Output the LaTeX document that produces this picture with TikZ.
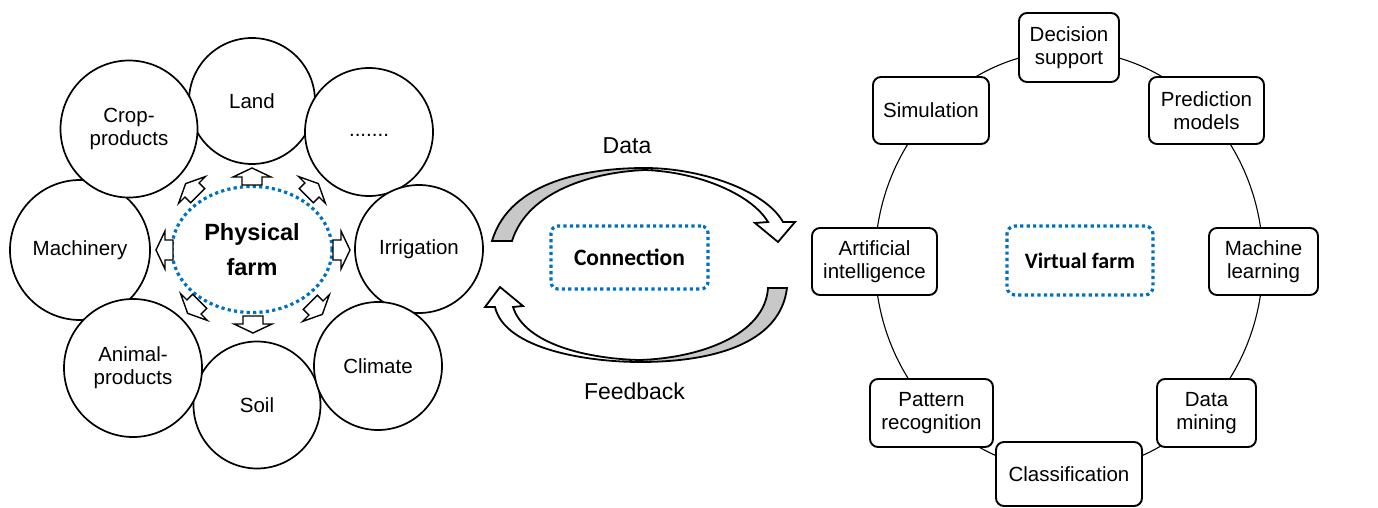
\documentclass[tikz,border=0pt]{standalone}
\usepackage{fontspec}
\setmainfont{Liberation Sans}
\newfontfamily\calib{Carlito}
\usetikzlibrary{shapes.geometric}
\definecolor{dotblue}{RGB}{0,112,192}
\definecolor{bandgray}{RGB}{200,200,200}
\begin{document}
\begin{tikzpicture}[x=1pt,y=-1pt,
  lbl/.style={font=\fontsize{20.5}{23}\selectfont, align=center},
  farmcircle/.style={lbl, circle, draw, line width=1.7, fill=white, inner sep=0, minimum size=#1},
  toolbox/.style={lbl, draw, line width=1.9, rounded corners=8, fill=white, inner sep=0, minimum width=#1, minimum height=67},
  bluedot/.style={draw=dotblue, line width=3.2, dash pattern=on 3.2 off 3.2},
  outarrow/.pic={\draw[line width=1.4, fill=white, line join=miter] (-8,-10) -- (0,-10) -- (0,-19) -- (9,0) -- (0,19) -- (0,10) -- (-8,10) -- cycle;},
  band/.style={line width=1.8, line join=miter},
  flowlbl/.style={font=\fontsize{23}{25}\selectfont}]
\useasboundingbox (0,0) rectangle (1378,508);

% ---------- physical farm ----------
\node[farmcircle=126] (land) at (252,101) {Land};
\node[farmcircle=127] (soil) at (257,405) {Soil};
\node[farmcircle=140] (machinery) at (80,250) {Machinery};
\node[farmcircle=137] (crop) at (129,129) {Crop-\\products};
\node[farmcircle=128] (more) at (369,132) {\vphantom{Ag}.......};
\node[farmcircle=128] (irrigation) at (419,249) {Irrigation};
\node[farmcircle=128] (climate) at (378,366) {Climate};
\node[farmcircle=138] (animal) at (133,368) {Animal-\\products};

\node[ellipse, bluedot, minimum width=160, minimum height=126, inner sep=0,
      font=\bfseries\fontsize{23.5}{35}\selectfont, align=center] (physical) at (252,249.5) {Physical\\farm};

\pic[rotate=90] at (252,177) {outarrow};
\pic[rotate=0] at (341,250) {outarrow};
\pic[rotate=180] at (165,250) {outarrow};
\pic[rotate=-90] at (253,324) {outarrow};
\pic[rotate=135] at (192,190) {outarrow};
\pic[rotate=45] at (312,190) {outarrow};
\pic[rotate=-135] at (194,307) {outarrow};
\pic[rotate=-45] at (316,308) {outarrow};

% ---------- connection ----------
\filldraw[band, fill=bandgray] (492,241) .. controls (510,180) and (590,168) .. (645,168) -- (645,170) .. controls (595,172) and (528,190) .. (512,241) -- cycle;
\filldraw[band, fill=white] (645,168) .. controls (700,168) and (765,190) .. (783,222) -- (795,222) -- (778,242) -- (755,223) -- (768,222) .. controls (752,195) and (700,172) .. (645,170) -- cycle;
\filldraw[band, fill=white] (640,362) .. controls (590,362) and (505,350) .. (495,307) -- (485,307) -- (500,287) -- (523,306) -- (513,307) .. controls (525,345) and (590,359) .. (640,360) -- cycle;
\filldraw[band, fill=bandgray] (640,362) .. controls (710,362) and (780,345) .. (787,288) -- (768,288) .. controls (765,335) and (700,358) .. (640,360) -- cycle;

\node[flowlbl] (data) at (627,146) {Data};
\node[flowlbl] (feedback) at (634.5,391) {Feedback};
\node[bluedot, rounded corners=7, minimum width=157, minimum height=63, inner sep=0,
      font=\calib\bfseries\fontsize{23.5}{25}\selectfont] (connection) at (629.5,257.5) {Connection};

% ---------- virtual farm ----------
\node[draw, ellipse, line width=1.1, minimum width=388, minimum height=420, inner sep=0] (ring) at (1069,261) {};
\node[toolbox=100, minimum height=69] (decision) at (1069,47.5) {Decision\\support};
\node[toolbox=116] (simulation) at (931,110.5) {Simulation};
\node[toolbox=115] (prediction) at (1206.5,110.5) {Prediction\\models};
\node[toolbox=125] (ai) at (874.5,261.5) {Artificial\\intelligence};
\node[toolbox=109] (ml) at (1263.5,261.5) {Machine\\learning};
\node[toolbox=123, minimum height=68] (pattern) at (931.5,413) {Pattern\\recognition};
\node[toolbox=99, minimum height=68] (mining) at (1206.5,413) {Data\\mining};
\node[toolbox=146, minimum height=64] (classification) at (1069,474) {Classification};
\node[bluedot, rounded corners=8, minimum width=146, minimum height=69, inner sep=0,
      font=\calib\bfseries\fontsize{22}{24}\selectfont] (virtual) at (1080,260.5) {Virtual farm};
\end{tikzpicture}
\end{document}
